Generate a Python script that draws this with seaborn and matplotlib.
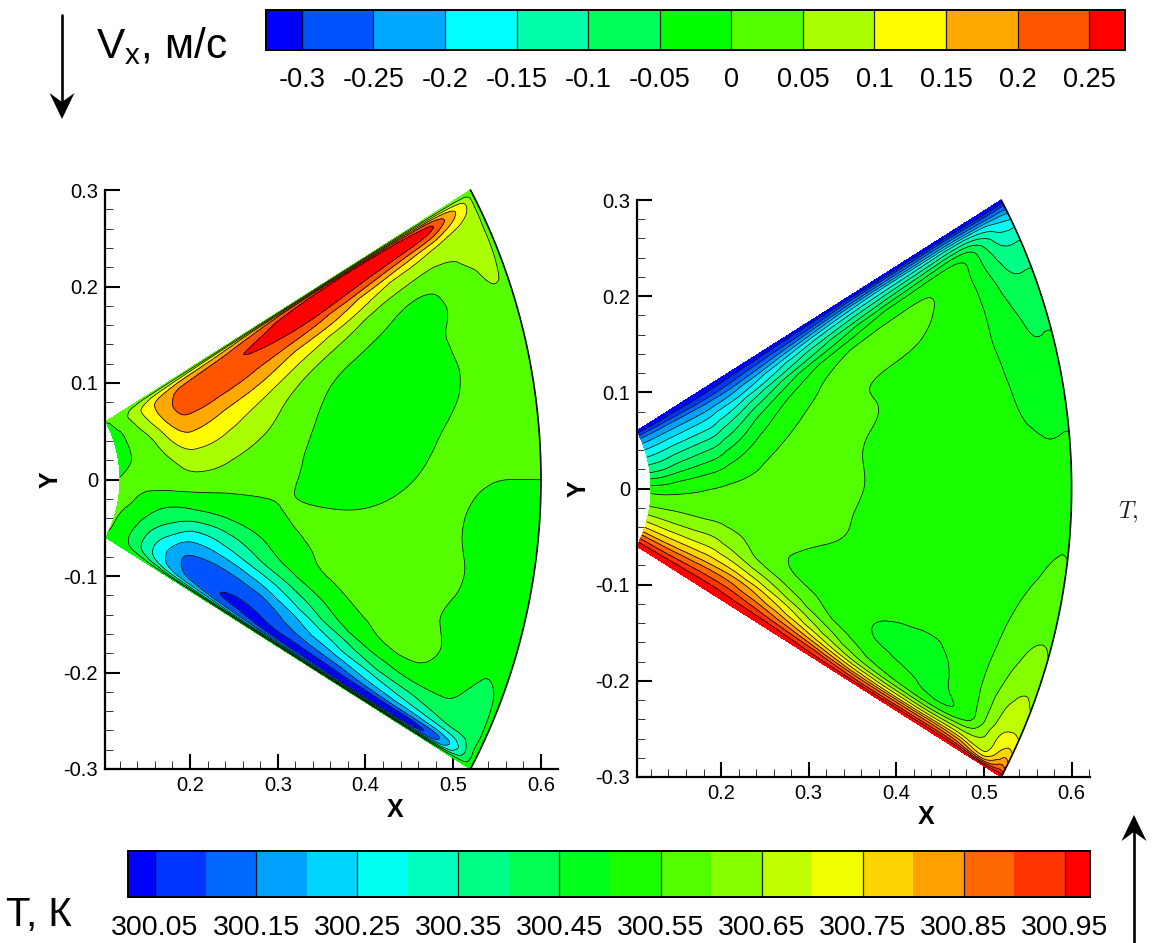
import numpy as np
import matplotlib
matplotlib.use("Agg")
import matplotlib.pyplot as plt
import matplotlib.tri as mtri
from matplotlib.colors import ListedColormap, BoundaryNorm
from matplotlib.colorbar import Colorbar
from matplotlib.patches import Polygon
from matplotlib.lines import Line2D
from matplotlib.ticker import MultipleLocator, FixedLocator, FixedFormatter
import seaborn as sns

# ---------- data ----------
radius = [.12, .135, .15, .17, .19, .21, .25, .30, .35, .40, .45, .50, .54, .57, .59, .60]
wedge_fraction = [1, .98, .95, .9, .85, .75, .6, .45, .3, .15, 0, -.15, -.3, -.45, -.6, -.75, -.85, -.9, -.95, -.98, -1]
wedge_half_angle_deg = 30

vx_values = [
 [.008,.002,-.005,-.01,-.012,-.012,-.012,-.012,-.01,-.006,.002,.005,.006,.006,.005,.004,.001,-.002,-.004,-.006,-.008],
 [.01,.02,.025,.025,.02,.008,.002,0,0,.004,.008,.006,.002,-.006,-.018,-.03,-.03,-.025,-.02,-.015,-.01],
 [.01,.035,.05,.06,.06,.045,.025,.012,.008,.01,.012,.002,-.012,-.03,-.05,-.06,-.06,-.055,-.04,-.025,-.01],
 [.01,.055,.09,.125,.135,.125,.09,.06,.04,.025,.018,-.006,-.045,-.08,-.115,-.14,-.14,-.12,-.08,-.04,-.01],
 [.01,.07,.12,.165,.185,.195,.175,.135,.09,.055,.03,-.008,-.055,-.095,-.15,-.2,-.2,-.19,-.14,-.08,-.01],
 [.01,.08,.14,.195,.215,.225,.205,.16,.115,.072,.04,-.008,-.055,-.14,-.22,-.26,-.25,-.235,-.18,-.1,-.01],
 [.01,.10,.17,.225,.235,.225,.17,.115,.078,.05,.025,-.012,-.05,-.12,-.2,-.28,-.295,-.295,-.24,-.14,-.01],
 [.01,.15,.21,.245,.247,.21,.125,.07,.042,.02,.012,.005,-.008,-.042,-.115,-.25,-.31,-.325,-.3,-.2,-.01],
 [.01,.2,.27,.29,.245,.14,.045,0,-.012,-.015,-.015,-.002,.012,.006,-.04,-.15,-.23,-.27,-.32,-.24,-.01],
 [.01,.24,.29,.27,.205,.09,0,-.018,-.022,-.022,-.018,-.002,.012,.018,.008,-.06,-.17,-.235,-.32,-.28,-.01],
 [.01,.26,.3,.24,.12,.025,-.015,-.02,-.02,-.012,0,.012,.02,.025,.018,0,-.1,-.18,-.28,-.32,-.01],
 [.01,.24,.295,.17,.075,-.01,-.012,-.01,-.004,.008,.01,.008,.01,.01,.008,.008,-.065,-.14,-.25,-.31,-.01],
 [.01,.2,.27,.12,.055,.02,.012,.012,.012,.012,0,-.012,-.012,-.014,-.018,-.03,-.055,-.1,-.24,-.3,-.01],
 [.01,.13,.155,.085,.07,.052,.03,.02,.015,.01,0,-.01,-.015,-.02,-.03,-.055,-.06,-.08,-.17,-.16,-.01],
 [.01,.08,.09,.075,.07,.06,.035,.022,.016,.01,0,-.008,-.014,-.02,-.03,-.052,-.065,-.07,-.08,-.075,-.01],
 [.005,.01,.012,.012,.012,.012,.012,.012,.012,.012,0,-.012,-.012,-.012,-.012,-.012,-.012,-.012,-.012,-.012,-.005],
]

temperature_excess = [
 [0,.03,.06,.11,.155,.21,.27,.33,.385,.455,.52,.57,.6,.655,.72,.81,.89,.93,.97,.985,1],
 [0,.03,.055,.105,.15,.21,.275,.335,.39,.46,.52,.565,.6,.65,.715,.805,.885,.925,.968,.985,1],
 [0,.03,.05,.1,.15,.215,.285,.35,.41,.475,.53,.565,.6,.645,.71,.8,.88,.925,.966,.985,1],
 [0,.03,.05,.1,.155,.22,.295,.365,.43,.49,.54,.565,.595,.64,.705,.8,.88,.925,.965,.985,1],
 [0,.03,.05,.1,.155,.225,.305,.38,.445,.505,.55,.565,.59,.64,.7,.795,.88,.925,.965,.985,1],
 [0,.03,.05,.1,.16,.235,.31,.39,.46,.515,.555,.565,.59,.635,.7,.795,.88,.925,.965,.985,1],
 [0,.035,.08,.125,.19,.29,.425,.5,.545,.565,.57,.57,.565,.575,.62,.76,.86,.91,.95,.98,1],
 [0,.05,.1,.2,.3,.43,.54,.565,.57,.565,.565,.56,.555,.54,.54,.64,.76,.84,.92,.96,1],
 [0,.07,.15,.3,.38,.53,.565,.565,.565,.56,.56,.555,.552,.53,.525,.545,.65,.75,.88,.95,1],
 [0,.1,.23,.35,.47,.575,.555,.545,.535,.53,.53,.528,.525,.52,.51,.495,.54,.62,.78,.9,1],
 [0,.1,.25,.4,.525,.57,.54,.53,.525,.52,.52,.52,.518,.515,.505,.485,.51,.58,.75,.9,1],
 [0,.12,.28,.46,.555,.54,.525,.52,.515,.515,.515,.515,.515,.51,.505,.49,.48,.52,.73,.9,1],
 [0,.12,.3,.485,.495,.495,.495,.5,.505,.51,.515,.52,.53,.54,.55,.55,.52,.56,.72,.88,1],
 [0,.1,.25,.35,.385,.42,.45,.465,.485,.503,.515,.53,.548,.57,.597,.63,.655,.67,.69,.8,1],
 [0,.1,.22,.3,.35,.4,.44,.46,.485,.503,.52,.54,.56,.585,.615,.66,.7,.74,.8,.88,1],
 [0,.1,.2,.3,.35,.4,.44,.46,.485,.505,.525,.54,.56,.585,.605,.645,.69,.73,.8,.88,1],
]
temperature_base = 300

vx_levels = [-.3, -.25, -.2, -.15, -.1, -.05, 0, .05, .1, .15, .2, .25]
vx_bar_ends = [-.325, .275]
vx_tick_labels = ["-0.3", "-0.25", "-0.2", "-0.15", "-0.1", "-0.05", "0", "0.05", "0.1", "0.15", "0.2", "0.25"]

t_levels = [300.05 + .05 * i for i in range(19)]
t_bar_ends = [300.0233, 300.9747]
t_divider_levels = [300.05 + .1 * i for i in range(10)]
t_tick_labels = ["300.05", "300.15", "300.25", "300.35", "300.45", "300.55", "300.65", "300.75", "300.85", "300.95"]

rainbow = ["#0000FF", "#00FFFF", "#00FF00", "#FFFF00", "#FF0000"]

# ---------- style ----------
sns.set_theme(style="ticks")
plt.rcParams["font.family"] = ["Liberation Sans", "DejaVu Sans"]
plt.rcParams["mathtext.fontset"] = "custom"
plt.rcParams["mathtext.rm"] = "Liberation Sans"
plt.rcParams["mathtext.it"] = "Liberation Sans:italic"
plt.rcParams["mathtext.bf"] = "Liberation Sans:bold"

W, H = 1152, 943
fig = plt.figure(figsize=(W / 100, H / 100), dpi=100, facecolor="white")


def px_axes(left, top, right, bottom):
    return fig.add_axes([left / W, 1 - bottom / H, (right - left) / W, (bottom - top) / H])


# ---------- logical mesh, refined by matplotlib ----------
nr, ns = len(radius), len(wedge_fraction)
jj, ii = np.meshgrid(np.arange(ns, dtype=float), np.arange(nr, dtype=float))
cells = []
for a in range(nr - 1):
    for b in range(ns - 1):
        p = a * ns + b
        cells += [[p, p + 1, p + ns], [p + 1, p + ns + 1, p + ns]]
logical = mtri.Triangulation(ii.ravel(), jj.ravel(), np.array(cells))
refiner = mtri.UniformTriRefiner(logical)


def refined_field(values):
    table = np.asarray(values, float)
    # light easing of reading errors between neighbouring radii
    eased = table.copy()
    eased[2:13] = .2 * table[1:12] + .6 * table[2:13] + .2 * table[3:14]
    tri_ref, z_ref = refiner.refine_field(eased.ravel(), subdiv=3)
    r = np.interp(tri_ref.x, np.arange(nr), radius)
    s = np.interp(tri_ref.y, np.arange(ns), wedge_fraction)
    th = np.deg2rad(s * wedge_half_angle_deg)
    return mtri.Triangulation(r * np.cos(th), r * np.sin(th), tri_ref.triangles), z_ref


def panel(ax, values, levels, colors, xlim):
    tri_xy, z = refined_field(values)
    fill_levels = [levels[0] - 10] + list(levels) + [levels[-1] + 10]
    ax.tricontourf(tri_xy, z, levels=fill_levels, colors=colors)
    ax.tricontour(tri_xy, z, levels=levels, colors="black", linewidths=0.55, linestyles="solid")
    arc = np.deg2rad(np.array(wedge_fraction) * wedge_half_angle_deg)
    arc = np.linspace(arc[0], arc[-1], 120)
    ax.plot(radius[-1] * np.cos(arc), radius[-1] * np.sin(arc), color="black", lw=1.2, clip_on=False)
    ax.set_xlim(*xlim)
    ax.set_ylim(-.3, .3)
    ax.xaxis.set_major_locator(FixedLocator([.2, .3, .4, .5, .6]))
    ax.xaxis.set_major_formatter(FixedFormatter(["0.2", "0.3", "0.4", "0.5", "0.6"]))
    ax.yaxis.set_major_locator(FixedLocator([-.3, -.2, -.1, 0, .1, .2, .3]))
    ax.yaxis.set_major_formatter(FixedFormatter(["-0.3", "-0.2", "-0.1", "0", "0.1", "0.2", "0.3"]))
    ax.xaxis.set_minor_locator(MultipleLocator(.02))
    ax.yaxis.set_minor_locator(MultipleLocator(.02))
    ax.tick_params(which="major", direction="in", length=10.5, width=1.5, labelsize=14.5, pad=5, colors="black")
    ax.tick_params(which="minor", direction="in", length=6, width=0.7, colors="#333333")
    sns.despine(ax=ax)
    for side in ("left", "bottom"):
        ax.spines[side].set_linewidth(1.6)
        ax.spines[side].set_color("black")
    ax.patch.set_alpha(0)


vx_colors = sns.blend_palette(rainbow, n_colors=13)
t_colors = sns.blend_palette(rainbow, n_colors=20)

ax1 = px_axes(105, 190, 558, 769)
panel(ax1, vx_values, vx_levels, vx_colors, (.1031, .6194))
ax2 = px_axes(637, 200, 1090, 777)
panel(ax2, temperature_base + np.asarray(temperature_excess), t_levels, t_colors, (.1041, .621))

for ax, xpos, xl, ylx in ((ax1, .64, -.0708, -.121), (ax2, .638, -.069, -.128)):
    ax.set_xlabel("X", fontsize=18, fontweight="bold", va="center", color="black")
    ax.set_ylabel("Y", fontsize=18, fontweight="bold", va="center", color="black")
    ax.xaxis.set_label_coords(xpos, xl)
    ax.yaxis.set_label_coords(ylx, .5)


# ---------- colour bars ----------
def bar(cax, levels, ends, colors, tick_levels, labels, dividers, fs, pad):
    bounds = [ends[0]] + list(levels) + [ends[1]]
    cmap = ListedColormap(colors)
    Colorbar(cax, cmap=cmap, norm=BoundaryNorm(bounds, cmap.N), orientation="horizontal",
             spacing="proportional", boundaries=bounds, ticks=tick_levels)
    cax.set_xticks(tick_levels)
    cax.set_xticks([], minor=True)
    cax.set_xticklabels(labels, fontsize=fs, color="black")
    cax.tick_params(axis="x", length=0, pad=pad)
    for lv in dividers:
        cax.axvline(lv, color="black", lw=0.9, alpha=.85)
    for sp in cax.spines.values():
        sp.set_visible(True)
        sp.set_linewidth(1.2)
        sp.set_color("black")


bar(px_axes(266, 10, 1125, 50), vx_levels, vx_bar_ends, vx_colors, vx_levels, vx_tick_labels, vx_levels, 19.5, 12)
bar(px_axes(128, 851, 1090, 897), t_levels, t_bar_ends, t_colors, t_divider_levels, t_tick_labels, t_divider_levels, 20.5, 13)


# ---------- annotations ----------
def px_text(x, y, s, **kw):
    fig.text(x / W, 1 - y / H, s, **kw)


px_text(96, 58, r"V$_{\mathrm{x}}$, м/с", fontsize=30.5, ha="left", va="baseline", color="black")
px_text(6, 926, "T, К", fontsize=29, ha="left", va="baseline", color="black")
px_text(1118, 518, r"$T,$", fontsize=17, ha="left", va="baseline", color="#222222", math_fontfamily="cm")


def arrow(x, y_tail, y_tip, direction):
    hy = y_tip - direction * 26
    ny = y_tip - direction * 17
    fig.add_artist(Line2D([x / W, x / W], [1 - y_tail / H, 1 - ny / H], color="black", lw=1.9,
                          transform=fig.transFigure))
    pts = [(x, y_tip), (x - 12.5, hy), (x, ny), (x + 12.5, hy)]
    fig.add_artist(Polygon([(a / W, 1 - b / H) for a, b in pts], closed=True, facecolor="black",
                           edgecolor="none", transform=fig.transFigure))


arrow(62, 15, 119, 1)
arrow(1134, 943, 815, -1)

fig.savefig("out.png", dpi=100, facecolor="white")
